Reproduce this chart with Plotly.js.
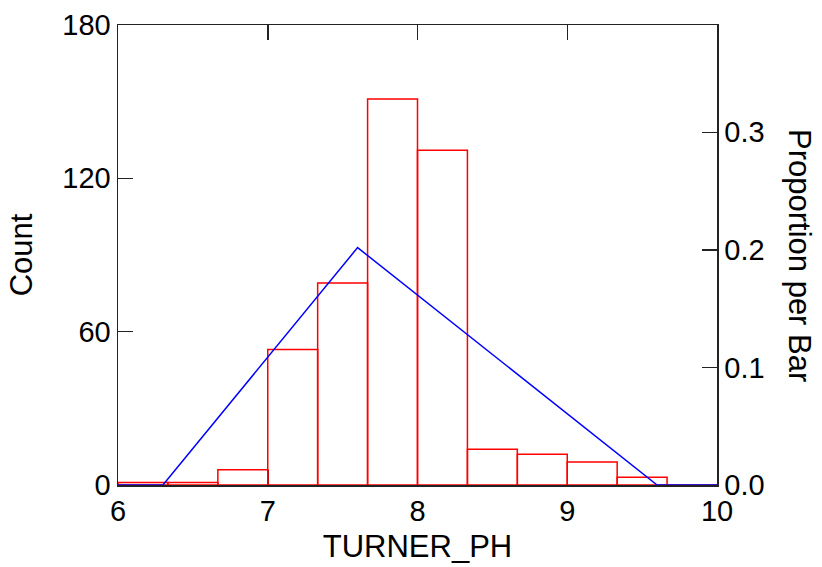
<!DOCTYPE html>
<html>
<head>
<meta charset="utf-8">
<script src="https://cdn.plot.ly/plotly-3.0.1.min.js"></script>
<style>html,body{margin:0;padding:0;background:#fff;}#chart{width:822px;height:567px;}</style>
</head>
<body>
<div id="chart"></div>
<script>
// Histogram bins (TURNER_PH), bin width 1/3 from 6 to 10
const binStarts = [6, 6.3333, 6.6667, 7, 7.3333, 7.6667, 8, 8.3333, 8.6667, 9, 9.3333, 9.6667];
const binWidth = 1/3;
const counts = [1, 1, 6, 53, 79, 151, 131, 14, 12, 9, 3, 0];
// Fitted triangular curve (in count units)
const lineX = [6, 6.3, 7.6, 9.6, 10];
const lineY = [0, 0, 92.9, 0, 0];
const xTicks = [6, 7, 8, 9, 10];
const countTicks = [0, 60, 120, 180];
const propTicks = [0, 0.1, 0.2, 0.3];

const total = counts.reduce((a, b) => a + b, 0);
const FONT = "Liberation Sans, Arial, sans-serif";

const barTrace = {
  type: 'bar',
  x: binStarts.map(s => s + binWidth / 2),
  y: counts,
  width: binStarts.map(() => binWidth),
  marker: {color: 'rgba(255,255,255,0)', line: {color: '#ff0000', width: 1.5}},
  hoverinfo: 'x+y',
  showlegend: false
};
const lineTrace = {
  type: 'scatter',
  mode: 'lines',
  x: lineX,
  y: lineY,
  line: {color: '#0000ff', width: 1.5},
  showlegend: false
};
// invisible trace to activate the right axis
const propTrace = {
  type: 'scatter', mode: 'lines',
  x: [6, 10], y: [0, 0], yaxis: 'y2',
  line: {color: 'rgba(0,0,0,0)', width: 0},
  hoverinfo: 'skip', showlegend: false
};

const layout = {
  width: 822, height: 567,
  margin: {l: 118, r: 105, t: 25, b: 82},
  paper_bgcolor: '#fff', plot_bgcolor: '#fff',
  font: {family: FONT, color: '#000', size: 29},
  bargap: 0,
  xaxis: {
    range: [6, 10], tickvals: xTicks, ticktext: xTicks.map(String),
    showgrid: false, zeroline: false,
    showline: true, linecolor: '#222', linewidth: 1.5, mirror: 'ticks',
    ticks: 'inside', ticklen: 15, tickwidth: 1.5, tickcolor: '#222',
    tickfont: {size: 29, family: FONT},
    title: {text: 'TURNER_PH', font: {size: 31, family: FONT}, standoff: 9},
    layer: 'below traces'
  },
  yaxis: {
    range: [0, 180], tickvals: countTicks, ticktext: countTicks.map(String),
    showgrid: false, zeroline: false,
    showline: true, linecolor: '#222', linewidth: 1.5,
    ticks: 'inside', ticklen: 15, tickwidth: 1.5, tickcolor: '#222',
    tickfont: {size: 29, family: FONT},
    title: {text: 'Count', font: {size: 31, family: FONT}, standoff: 20},
    layer: 'below traces'
  },
  yaxis2: {
    overlaying: 'y', side: 'right',
    range: [0, 180 / total], tickvals: propTicks, tickformat: '.1f',
    showgrid: false, zeroline: false,
    showline: true, linecolor: '#222', linewidth: 1.5,
    ticks: 'inside', ticklen: 15, tickwidth: 1.5, tickcolor: '#222',
    tickfont: {size: 29, family: FONT},
    layer: 'below traces'
  },
  annotations: [{
    text: 'Proportion per Bar', textangle: 90,
    xref: 'paper', yref: 'paper', x: 1, y: 0.5,
    xanchor: 'center', yanchor: 'middle', xshift: 83,
    showarrow: false, font: {size: 31, family: FONT, color: '#000'}
  }]
};

Plotly.newPlot('chart', [barTrace, lineTrace, propTrace], layout, {displayModeBar: false, staticPlot: true});
</script>
</body>
</html>
